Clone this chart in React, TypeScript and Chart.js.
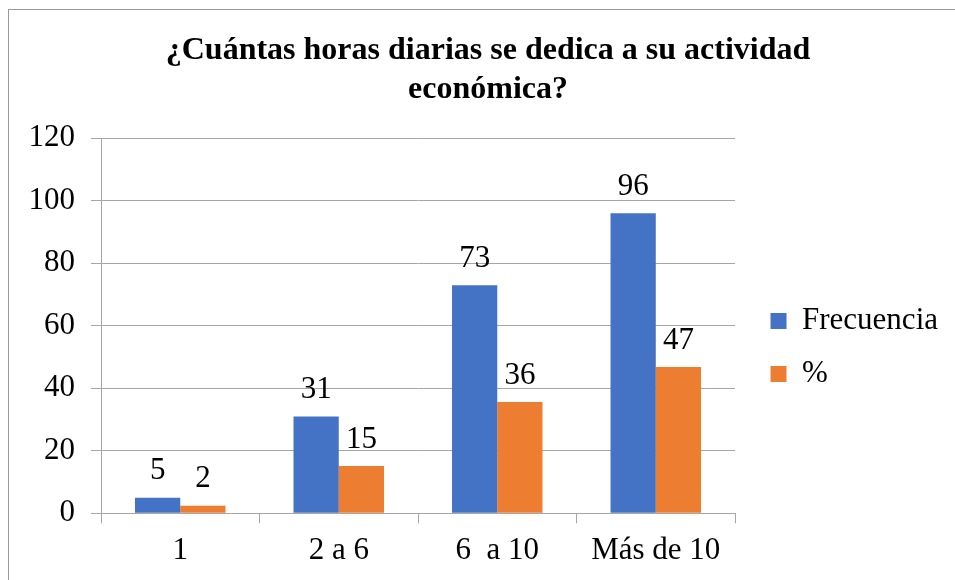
import { useEffect, useRef } from 'react';
import { Chart, registerables } from 'chart.js';

Chart.register(...registerables);

const FONT = "'Liberation Serif', 'Times New Roman', serif";
const GRID = '#a6a6a6';

const titleLines = ['¿Cuántas horas diarias se dedica a su actividad', 'económica?'];
const categories = ['1', '2 a 6', '6  a 10', 'Más de 10'];
const seriesNames = ['Frecuencia', '%'];
const frecuencia = [5, 31, 73, 96];
const porcentaje = [2.4, 15.1, 35.6, 46.8];
const yMin = 0;
const yMax = 120;
const yStep = 20;

export default function App() {
  const ref = useRef<HTMLCanvasElement>(null);

  useEffect(() => {
    if (!ref.current) return;
    const valueLabels = {
      id: 'valueLabels',
      afterDatasetsDraw(chart: any) {
        const ctx = chart.ctx;
        ctx.save();
        ctx.font = `31px ${FONT}`;
        ctx.fillStyle = '#000';
        ctx.textAlign = 'center';
        ctx.textBaseline = 'alphabetic';
        chart.data.datasets.forEach((ds: any, i: number) => {
          const meta = chart.getDatasetMeta(i);
          meta.data.forEach((el: any, j: number) => {
            ctx.fillText(String(Math.round(ds.data[j])), el.x, el.y - 18.5);
          });
        });
        ctx.restore();
      },
    };

    const chart = new Chart(ref.current, {
      type: 'bar',
      data: {
        labels: categories,
        datasets: [
          {
            label: seriesNames[0],
            data: frecuencia,
            backgroundColor: '#4472C4',
            borderWidth: 0,
            categoryPercentage: 0.571,
            barPercentage: 1,
            yAxisID: 'y',
          },
          {
            label: seriesNames[1],
            data: porcentaje,
            backgroundColor: '#ED7D31',
            borderWidth: 0,
            categoryPercentage: 0.571,
            barPercentage: 1,
            yAxisID: 'y',
          },
        ],
      },
      options: {
        responsive: false,
        devicePixelRatio: 1,
        animation: false,
        layout: { padding: { left: 28, right: 7, top: 10, bottom: 10.9 } },
        plugins: {
          tooltip: { enabled: false },
          title: {
            display: true,
            text: titleLines,
            color: '#000',
            font: { family: FONT, size: 32, weight: 'bold', lineHeight: 1.2 },
            padding: { top: 22, bottom: 29.5 },
          },
          legend: {
            position: 'right',
            fullSize: false,
            align: 'center',
            maxWidth: 400,
            title: {
              display: true,
              text: '',
              font: { size: 1, lineHeight: 1 },
              padding: { top: 42.4, bottom: 0 },
            },
            labels: {
              color: '#000',
              font: { family: FONT, size: 31 },
              boxWidth: 16,
              boxHeight: 16,
              padding: 22,
            },
          },
        },
        scales: {
          x: {
            grid: {
              display: true,
              drawOnChartArea: false,
              drawTicks: true,
              tickLength: 10,
              color: GRID,
              offset: true,
            },
            border: { display: true, color: GRID },
            ticks: {
              color: '#000',
              font: { family: FONT, size: 31, lineHeight: 1.2 },
              padding: 8.6,
              maxRotation: 0,
              autoSkip: false,
            },
            afterFit: (s: any) => {
              s.height = 55.8;
            },
          },
          y: {
            min: yMin,
            max: yMax,
            ticks: {
              stepSize: yStep,
              color: '#000',
              font: { family: FONT, size: 31, lineHeight: 1.2 },
              padding: 16,
            },
            grid: { color: GRID, tickLength: 10, drawTicks: true },
            border: { display: true, color: GRID },
            afterFit: (s: any) => {
              s.width = 73;
            },
          },
          yPad: {
            type: 'linear',
            position: 'right',
            display: true,
            grid: { display: false },
            border: { display: false },
            ticks: { display: false },
            afterFit: (s: any) => {
              s.width = 13.5;
            },
          },
        },
      },
      plugins: [valueLabels],
    } as any);

    return () => chart.destroy();
  }, []);

  return (
    <div
      style={{
        position: 'fixed',
        left: 0,
        top: 0,
        width: 955,
        height: 580,
        overflow: 'hidden',
        background: '#fff',
      }}
    >
      <canvas
        ref={ref}
        width={955}
        height={580}
        style={{ position: 'absolute', left: 0, top: 0, width: 955, height: 580 }}
      />
      <div
        style={{
          position: 'absolute',
          left: 8,
          top: 9,
          width: 980,
          height: 600,
          border: '1px solid #999',
          pointerEvents: 'none',
        }}
      />
    </div>
  );
}
